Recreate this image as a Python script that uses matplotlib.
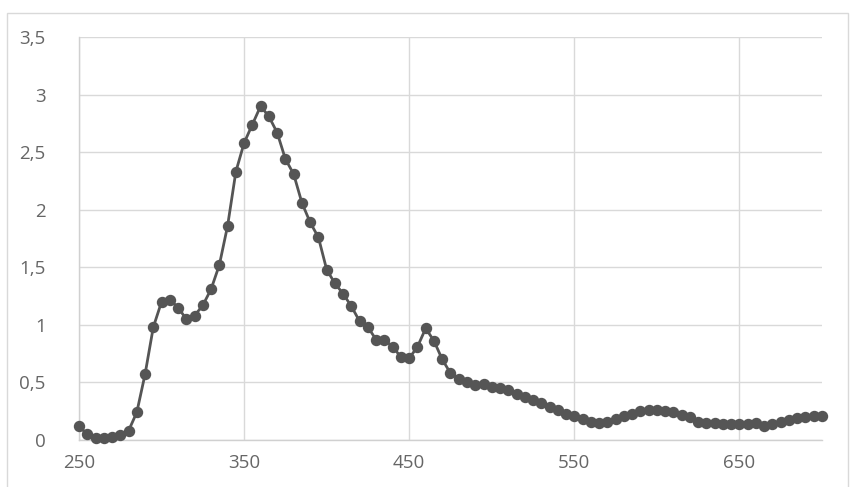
import matplotlib.pyplot as plt
from matplotlib.patches import Rectangle
from matplotlib.ticker import FuncFormatter

# довжина хвилі (нм) та значення
wavelength = list(range(250, 705, 5))
values = [
    0.12, 0.05, 0.02, 0.02, 0.03, 0.04, 0.08, 0.24, 0.57, 0.98,
    1.20, 1.22, 1.15, 1.05, 1.08, 1.17, 1.31, 1.52, 1.86, 2.33,
    2.58, 2.74, 2.90, 2.81, 2.67, 2.44, 2.31, 2.06, 1.89, 1.76,
    1.48, 1.36, 1.27, 1.16, 1.03, 0.98, 0.87, 0.87, 0.81, 0.72,
    0.71, 0.81, 0.97, 0.86, 0.70, 0.58, 0.53, 0.50, 0.48, 0.49,
    0.46, 0.45, 0.43, 0.40, 0.37, 0.35, 0.32, 0.29, 0.26, 0.23,
    0.21, 0.18, 0.16, 0.15, 0.16, 0.18, 0.21, 0.23, 0.25, 0.26,
    0.26, 0.25, 0.24, 0.22, 0.20, 0.16, 0.15, 0.15, 0.14, 0.14,
    0.14, 0.14, 0.15, 0.12, 0.14, 0.16, 0.17, 0.19, 0.20, 0.21,
    0.21,
]
x_ticks = [250, 350, 450, 550, 650]
y_ticks = [0, 0.5, 1, 1.5, 2, 2.5, 3, 3.5]

plt.rcParams['font.family'] = ['Open Sans', 'DejaVu Sans']

fig = plt.figure(figsize=(8.54, 4.87), dpi=100)
ax = fig.add_axes([79 / 854, 47 / 487, 743 / 854, 403 / 487])

# рамка навколо діаграми
fig.patches.append(Rectangle((7 / 854, -0.05), 841 / 854, 1.05 - 13 / 487,
                             transform=fig.transFigure, fill=False,
                             edgecolor='#d9d9d9', linewidth=1))

ax.plot(wavelength, values, color='#555555', linewidth=2,
        marker='o', markersize=7.2, clip_on=False, zorder=3)

ax.set_xlim(250, 700)
ax.set_ylim(0, 3.5)
ax.set_xticks(x_ticks)
ax.set_yticks(y_ticks)
ax.yaxis.set_major_formatter(FuncFormatter(lambda v, p: f'{v:g}'.replace('.', ',')))

ax.grid(True, color='#d9d9d9', linewidth=1)
ax.set_axisbelow(True)
for side in ['top', 'right']:
    ax.spines[side].set_visible(False)
for side in ['left', 'bottom']:
    ax.spines[side].set_color('#d0d0d0')
    ax.spines[side].set_linewidth(1)

ax.tick_params(length=0, colors='#666666', labelsize=13.5)
ax.tick_params(axis='y', pad=24)
ax.tick_params(axis='x', pad=10)

fig.savefig('out.png', dpi=100)
